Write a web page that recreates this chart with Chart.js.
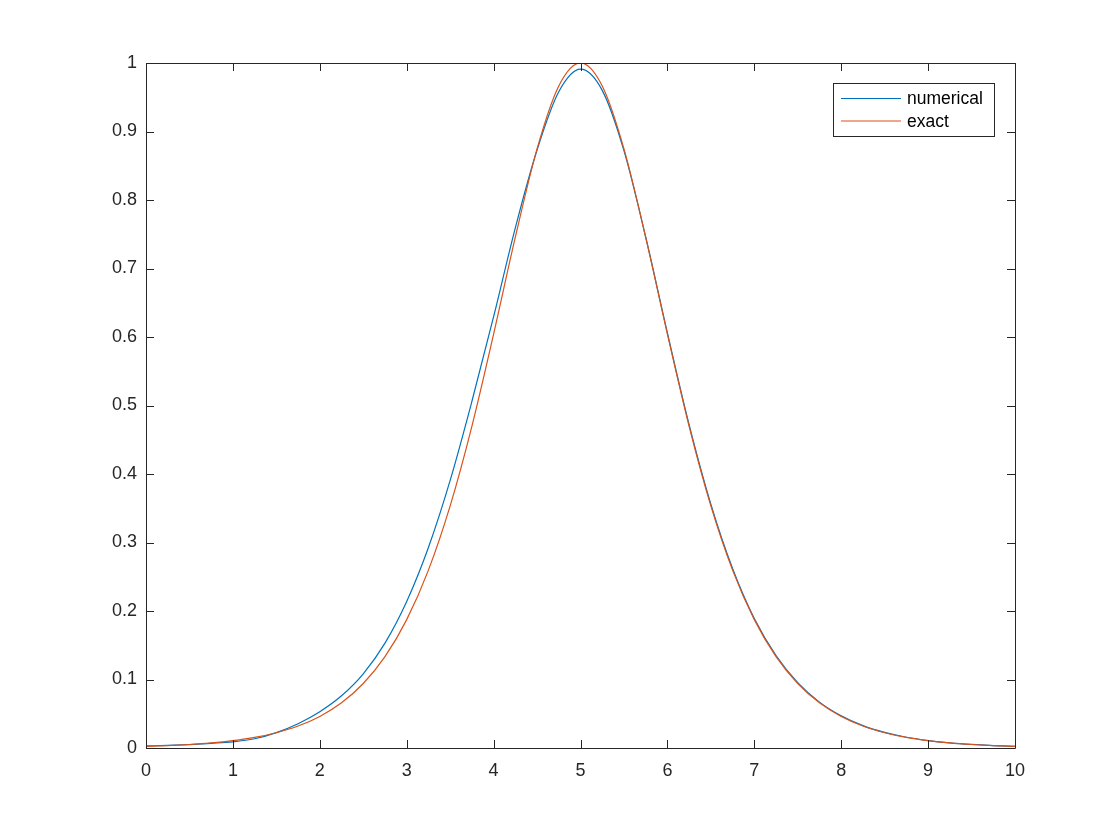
<!DOCTYPE html>
<html>
<head>
<meta charset="utf-8">
<script src="https://cdn.jsdelivr.net/npm/chart.js@4"></script>
<style>
  body { margin: 0; background: #fff; }
  #wrap { width: 1120px; height: 840px; }
</style>
</head>
<body>
<div id="wrap"><canvas id="grafica" width="1120" height="840"></canvas></div>
<script>
// x positions
const xs = [0, 0.25, 0.5, 0.75, 1, 1.25, 1.5, 1.75, 2, 2.25, 2.5, 2.75, 3, 3.25, 3.5, 3.75,
            4, 4.25, 4.5, 4.75, 5, 5.25, 5.5, 5.75, 6, 6.25, 6.5, 6.75, 7, 7.25, 7.5, 7.75,
            8, 8.25, 8.5, 8.75, 9, 9.25, 9.5, 9.75, 10];

const numerical = [0.0030, 0.0038, 0.0050, 0.0068, 0.0090, 0.0135, 0.0225, 0.0355, 0.0530, 0.0762,
                   0.1083, 0.1531, 0.2139, 0.2927, 0.3906, 0.5058, 0.6296, 0.7594, 0.8730, 0.9580,
                   0.9910, 0.9600, 0.8720, 0.7460, 0.6060, 0.4720, 0.3560, 0.2620, 0.1890, 0.1350,
                   0.0955, 0.0670, 0.0470, 0.0327, 0.0227, 0.0157, 0.0109, 0.0075, 0.0052, 0.0036, 0.0025];

const exact = [0.0024, 0.0035, 0.0051, 0.0074, 0.0107, 0.0154, 0.0223, 0.0321, 0.0461, 0.0660,
               0.0942, 0.1334, 0.1874, 0.2597, 0.3535, 0.4696, 0.6042, 0.7457, 0.8747, 0.9665,
               1.0000, 0.9665, 0.8747, 0.7457, 0.6042, 0.4696, 0.3535, 0.2597, 0.1874, 0.1334,
               0.0942, 0.0660, 0.0461, 0.0321, 0.0223, 0.0154, 0.0107, 0.0074, 0.0051, 0.0035, 0.0024];

const seriesNames = ["numerical", "exact"];
const xTicks = [0, 1, 2, 3, 4, 5, 6, 7, 8, 9, 10];
const yTicks = [0, 0.1, 0.2, 0.3, 0.4, 0.5, 0.6, 0.7, 0.8, 0.9, 1];

const axisColor = "#262626";
const fontFam = "'Liberation Sans', Arial, Helvetica, sans-serif";

// matlab style box with inward ticks + legend box
const boxPlugin = {
    id: "matlabBox",
    afterDraw(chart) {
        const ctx = chart.ctx;
        const a = chart.chartArea;
        const sx = chart.scales.x, sy = chart.scales.y;
        const tl = 8;
        ctx.save();
        ctx.strokeStyle = axisColor;
        ctx.lineWidth = 1;
        ctx.beginPath();
        ctx.rect(Math.round(a.left) + 0.5, Math.round(a.top) + 0.5,
                 Math.round(a.right - a.left), Math.round(a.bottom - a.top));
        xTicks.forEach(v => {
            const px = Math.round(sx.getPixelForValue(v)) + 0.5;
            ctx.moveTo(px, a.bottom); ctx.lineTo(px, a.bottom - tl);
            ctx.moveTo(px, a.top); ctx.lineTo(px, a.top + tl);
        });
        yTicks.forEach(v => {
            const py = Math.round(sy.getPixelForValue(v)) + 0.5;
            ctx.moveTo(a.left, py); ctx.lineTo(a.left + tl, py);
            ctx.moveTo(a.right, py); ctx.lineTo(a.right - tl, py);
        });
        ctx.stroke();

        // legend
        const lx = 833.5, ly = 83.5, lw = 161, lh = 53;
        ctx.fillStyle = "#fff";
        ctx.fillRect(lx, ly, lw, lh);
        ctx.strokeRect(lx, ly, lw, lh);
        ctx.font = "17.5px " + fontFam;
        ctx.textBaseline = "middle";
        chart.data.datasets.forEach((ds, i) => {
            const yy = 98.5 + i * 22.5;
            ctx.strokeStyle = ds.borderColor;
            ctx.lineWidth = ds.borderWidth;
            ctx.beginPath();
            ctx.moveTo(841, yy); ctx.lineTo(901, yy);
            ctx.stroke();
            ctx.fillStyle = "#000";
            ctx.fillText(ds.label, 907, yy + 1);
        });
        ctx.restore();
    }
};

let grafica = document.getElementById("grafica").getContext("2d");

new Chart(grafica, {
    type: "line",
    data: {
        datasets: [
            {
                label: seriesNames[0],
                data: xs.map((x, i) => ({ x: x, y: numerical[i] })),
                borderColor: "#0072BD",
                borderWidth: 1.2,
                pointRadius: 0,
                cubicInterpolationMode: "monotone",
                order: 1
            },
            {
                label: seriesNames[1],
                data: xs.map((x, i) => ({ x: x, y: exact[i] })),
                borderColor: "#D95319",
                borderWidth: 1.2,
                pointRadius: 0,
                cubicInterpolationMode: "monotone",
                order: 0
            }
        ]
    },
    options: {
        responsive: false,
        animation: false,
        layout: { padding: { left: 86, right: 105, top: 63, bottom: 52 } },
        plugins: { legend: { display: false }, tooltip: { enabled: false } },
        scales: {
            x: {
                type: "linear",
                min: 0, max: 10,
                afterFit: s => { s.height = 40; },
                afterBuildTicks: s => { s.ticks = xTicks.map(v => ({ value: v })); },
                grid: { display: false, drawTicks: false },
                border: { display: false },
                ticks: {
                    color: axisColor, padding: 12, maxRotation: 0,
                    font: { size: 18, family: fontFam }
                }
            },
            y: {
                type: "linear",
                min: 0, max: 1,
                afterFit: s => { s.width = 60; },
                afterBuildTicks: s => { s.ticks = yTicks.map(v => ({ value: v })); },
                grid: { display: false, drawTicks: false },
                border: { display: false },
                ticks: {
                    color: axisColor, padding: 9,
                    font: { size: 18, family: fontFam },
                    callback: v => String(Math.round(v * 10) / 10)
                }
            }
        }
    },
    plugins: [boxPlugin]
});
</script>
</body>
</html>
